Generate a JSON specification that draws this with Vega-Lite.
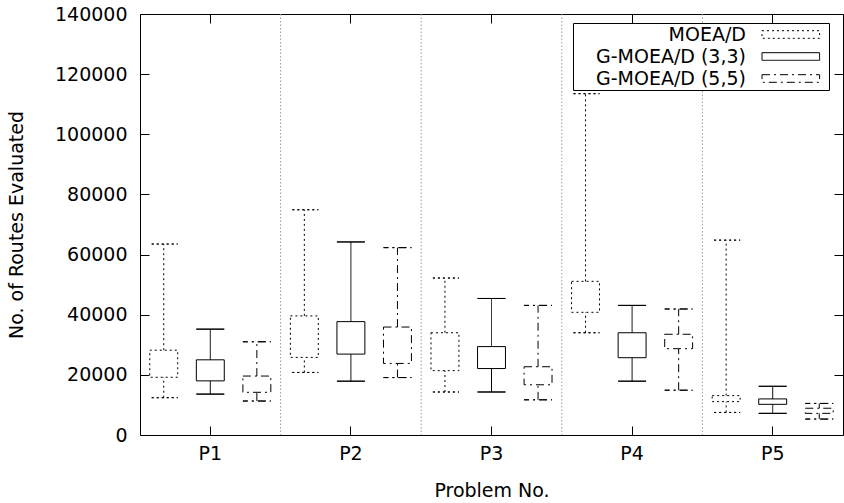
{
  "$schema": "https://vega.github.io/schema/vega-lite/v6.json",
  "width": 703,
  "height": 421,
  "autosize": {"type": "none"},
  "padding": {"left": 140, "top": 14, "right": 1, "bottom": 68},
  "config": {
    "font": "DejaVu Sans",
    "view": {"stroke": "black", "strokeWidth": 1},
    "axis": {
      "labelFont": "DejaVu Sans", "titleFont": "DejaVu Sans",
      "labelFontSize": 19, "titleFontSize": 19, "titleFontWeight": "normal",
      "labelColor": "black", "titleColor": "black", "tickColor": "black",
      "domain": false, "grid": false, "tickSize": -9, "tickWidth": 1
    },
    "legend": {
      "orient": "none", "legendX": 433, "legendY": 9,
      "strokeColor": "black", "fillColor": "white", "padding": 1,
      "labelFont": "DejaVu Sans", "labelFontSize": 19, "labelColor": "black",
      "labelAlign": "right", "labelOffset": 151, "rowPadding": 1,
      "symbolType": "M17.75,-0.38H23.51V0.38H17.75Z M24.1,0h0", "symbolSize": 400,
      "symbolStrokeColor": "black", "symbolStrokeWidth": 1, "symbolFillColor": "transparent"
    }
  },
  "data": {
    "values": [
      {"problem": "P1", "algo": "MOEA/D", "min": 12400, "q1": 19200, "q3": 28200, "max": 63500},
      {"problem": "P1", "algo": "G-MOEA/D (3,3)", "min": 13600, "q1": 18000, "q3": 25000, "max": 35200},
      {"problem": "P1", "algo": "G-MOEA/D (5,5)", "min": 11300, "q1": 14200, "q3": 19600, "max": 31000},
      {"problem": "P2", "algo": "MOEA/D", "min": 20800, "q1": 25800, "q3": 39600, "max": 74900},
      {"problem": "P2", "algo": "G-MOEA/D (3,3)", "min": 17900, "q1": 26900, "q3": 37700, "max": 64200},
      {"problem": "P2", "algo": "G-MOEA/D (5,5)", "min": 19100, "q1": 23800, "q3": 35900, "max": 62300},
      {"problem": "P3", "algo": "MOEA/D", "min": 14300, "q1": 21400, "q3": 34000, "max": 52200},
      {"problem": "P3", "algo": "G-MOEA/D (3,3)", "min": 14300, "q1": 22100, "q3": 29400, "max": 45400},
      {"problem": "P3", "algo": "G-MOEA/D (5,5)", "min": 11700, "q1": 16700, "q3": 22700, "max": 43100},
      {"problem": "P4", "algo": "MOEA/D", "min": 34000, "q1": 40800, "q3": 51100, "max": 113500},
      {"problem": "P4", "algo": "G-MOEA/D (3,3)", "min": 17900, "q1": 25700, "q3": 34000, "max": 43100},
      {"problem": "P4", "algo": "G-MOEA/D (5,5)", "min": 14900, "q1": 28700, "q3": 33500, "max": 41900},
      {"problem": "P5", "algo": "MOEA/D", "min": 7500, "q1": 11100, "q3": 13100, "max": 64800},
      {"problem": "P5", "algo": "G-MOEA/D (3,3)", "min": 7200, "q1": 10200, "q3": 12000, "max": 16200},
      {"problem": "P5", "algo": "G-MOEA/D (5,5)", "min": 5300, "q1": 7200, "q3": 8900, "max": 10500}
    ]
  },
  "layer": [
    {
      "transform": [{"filter": "datum.problem != 'P1' && datum.algo == 'MOEA/D'"}],
      "mark": {"type": "rule", "color": "#9a9a9a", "strokeWidth": 1, "strokeDash": [1.5, 2]},
      "encoding": {
        "x": {"field": "problem", "type": "nominal", "bandPosition": 0, "axis": null,
              "scale": {"paddingInner": 0, "paddingOuter": 0}}
      }
    },
    {
      "mark": {"type": "rule", "color": "black", "strokeWidth": 1},
      "encoding": {
        "x": {"field": "problem", "type": "nominal", "title": "Problem No.",
              "scale": {"paddingInner": 0, "paddingOuter": 0},
              "axis": {"labelAngle": 0, "labelPadding": 18, "titlePadding": 18}},
        "xOffset": {"field": "algo", "type": "nominal", "sort": ["MOEA/D", "G-MOEA/D (3,3)", "G-MOEA/D (5,5)"],
                    "scale": {"paddingInner": 0.4, "paddingOuter": 0.21}},
        "y": {"field": "min", "type": "quantitative", "title": "No. of Routes Evaluated",
              "scale": {"domain": [0, 140000], "nice": false},
              "axis": {"values": [0, 20000, 40000, 60000, 80000, 100000, 120000, 140000], "format": "d",
                       "labelPadding": 22, "titlePadding": 28}},
        "y2": {"field": "q1"},
        "strokeDash": {"field": "algo", "type": "nominal",
          "scale": {"domain": ["MOEA/D", "G-MOEA/D (3,3)", "G-MOEA/D (5,5)"], "range": [[2, 3], [1, 0], [8, 4, 2, 4]]},
          "legend": {
            "title": null, "orient": "none", "legendX": 433, "legendY": 9,
            "strokeColor": "black", "fillColor": "white", "padding": 1,
            "labelFontSize": 19, "labelAlign": "right", "labelOffset": 151, "rowPadding": 1,
            "symbolType": "M17.75,-0.38H23.51V0.38H17.75Z M24.1,0h0", "symbolSize": 400,
            "symbolStrokeColor": "black", "symbolStrokeWidth": 1, "symbolFillColor": "transparent"
          }}
      }
    },
    {
      "mark": {"type": "rule", "color": "black", "strokeWidth": 1},
      "encoding": {
        "x": {"field": "problem", "type": "nominal",
              "axis": {"orient": "top", "labels": false, "title": null}},
        "xOffset": {"field": "algo", "type": "nominal", "sort": ["MOEA/D", "G-MOEA/D (3,3)", "G-MOEA/D (5,5)"]},
        "y": {"field": "q3", "type": "quantitative",
              "axis": {"orient": "right", "labels": false, "title": null,
                       "values": [0, 20000, 40000, 60000, 80000, 100000, 120000, 140000]}},
        "y2": {"field": "max"},
        "strokeDash": {"field": "algo", "type": "nominal"}
      }
    },
    {
      "transform": [{"filter": "datum.algo == 'MOEA/D'"}],
      "layer": [
        {
          "mark": {"type": "rect", "fill": "white", "fillOpacity": 0, "stroke": "black", "strokeWidth": 1, "strokeDash": [2, 3]},
          "encoding": {
            "x": {"field": "problem", "type": "nominal", "axis": null},
            "xOffset": {"field": "algo", "type": "nominal", "sort": ["MOEA/D", "G-MOEA/D (3,3)", "G-MOEA/D (5,5)"]},
            "y": {"field": "q1", "type": "quantitative", "axis": null},
            "y2": {"field": "q3"}
          }
        },
        {
          "transform": [{"fold": ["min", "max"], "as": ["end", "val"]}],
          "mark": {"type": "rect", "fill": "white", "fillOpacity": 0, "stroke": "black", "strokeWidth": 1, "strokeDash": [2, 3], "strokeDashOffset": 3},
          "encoding": {
            "x": {"field": "problem", "type": "nominal", "axis": null},
            "xOffset": {"field": "algo", "type": "nominal", "sort": ["MOEA/D", "G-MOEA/D (3,3)", "G-MOEA/D (5,5)"]},
            "y": {"field": "val", "type": "quantitative", "axis": null},
            "y2": {"field": "val"}
          }
        }
      ]
    },
    {
      "transform": [{"filter": "datum.algo == 'G-MOEA/D (3,3)'"}],
      "layer": [
        {
          "mark": {"type": "rect", "fill": "white", "fillOpacity": 0, "stroke": "black", "strokeWidth": 1},
          "encoding": {
            "x": {"field": "problem", "type": "nominal", "axis": null},
            "xOffset": {"field": "algo", "type": "nominal", "sort": ["MOEA/D", "G-MOEA/D (3,3)", "G-MOEA/D (5,5)"]},
            "y": {"field": "q1", "type": "quantitative", "axis": null},
            "y2": {"field": "q3"}
          }
        },
        {
          "transform": [{"fold": ["min", "max"], "as": ["end", "val"]}],
          "mark": {"type": "rect", "fill": "white", "fillOpacity": 0, "stroke": "black", "strokeWidth": 1},
          "encoding": {
            "x": {"field": "problem", "type": "nominal", "axis": null},
            "xOffset": {"field": "algo", "type": "nominal", "sort": ["MOEA/D", "G-MOEA/D (3,3)", "G-MOEA/D (5,5)"]},
            "y": {"field": "val", "type": "quantitative", "axis": null},
            "y2": {"field": "val"}
          }
        }
      ]
    },
    {
      "transform": [{"filter": "datum.algo == 'G-MOEA/D (5,5)'"}],
      "layer": [
        {
          "mark": {"type": "rect", "fill": "white", "fillOpacity": 0, "stroke": "black", "strokeWidth": 1, "strokeDash": [8, 4, 2, 4]},
          "encoding": {
            "x": {"field": "problem", "type": "nominal", "axis": null},
            "xOffset": {"field": "algo", "type": "nominal", "sort": ["MOEA/D", "G-MOEA/D (3,3)", "G-MOEA/D (5,5)"]},
            "y": {"field": "q1", "type": "quantitative", "axis": null},
            "y2": {"field": "q3"}
          }
        },
        {
          "transform": [{"fold": ["min", "max"], "as": ["end", "val"]}],
          "mark": {"type": "rect", "fill": "white", "fillOpacity": 0, "stroke": "black", "strokeWidth": 1, "strokeDash": [8, 4, 2, 4], "strokeDashOffset": 3},
          "encoding": {
            "x": {"field": "problem", "type": "nominal", "axis": null},
            "xOffset": {"field": "algo", "type": "nominal", "sort": ["MOEA/D", "G-MOEA/D (3,3)", "G-MOEA/D (5,5)"]},
            "y": {"field": "val", "type": "quantitative", "axis": null},
            "y2": {"field": "val"}
          }
        }
      ]
    }
  ],
  "resolve": {"axis": {"x": "independent", "y": "independent"}}
}
